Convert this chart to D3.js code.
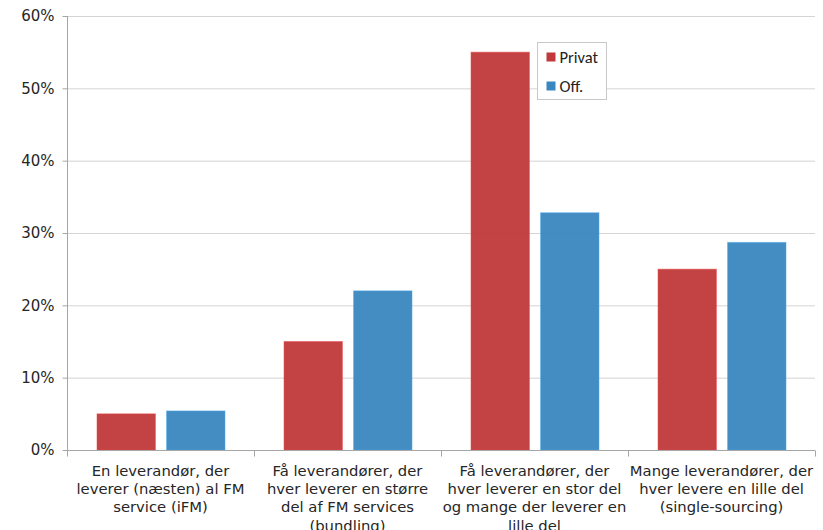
<!DOCTYPE html>
<html>
<head>
<meta charset="utf-8">
<script src="https://cdn.jsdelivr.net/npm/d3@7"></script>
<style>
  html, body { margin: 0; padding: 0; background: #fff; }
  svg { display: block; }
</style>
</head>
<body>
<svg id="chart" width="823" height="530"></svg>
<script>
// Category labels, one array of lines per group
const categories = [
  ["En leverandør, der", "leverer (næsten) al FM", "service (iFM)"],
  ["Få leverandører, der", "hver leverer en større", "del af FM services", "(bundling)"],
  ["Få leverandører, der", "hver leverer en stor del", "og mange der leverer en", "lille del"],
  ["Mange leverandører, der", "hver levere en lille del", "(single-sourcing)"]
];
const seriesNames = ["Privat", "Off."];
const privatValues = [0.05, 0.15, 0.55, 0.25];
const offValues = [0.054, 0.22, 0.328, 0.287];
const yTicks = [0, 0.1, 0.2, 0.3, 0.4, 0.5, 0.6];
const colors = ["#c0393b", "#3a87c0"];

const svg = d3.select("#chart");
const margin = { left: 67, right: 8, top: 16, bottom: 80 };
const W = 823, H = 530;
const plotW = W - margin.left - margin.right;
const plotH = H - margin.top - margin.bottom;
const g = svg.append("g").attr("transform", `translate(${margin.left},${margin.top})`);

const x0 = d3.scaleBand().domain(d3.range(categories.length)).range([0, plotW]).paddingInner(0).paddingOuter(0);
const x1 = d3.scaleBand().domain(seriesNames).range([30, x0.bandwidth() - 29]).paddingInner(0.16);
const y = d3.scaleLinear().domain([0, 0.6]).range([plotH, 0]);

// Horizontal gridlines
g.append("g").selectAll("line").data(yTicks.filter(t => t > 0)).join("line")
  .attr("x1", 0).attr("x2", plotW)
  .attr("y1", d => y(d) + 0.5).attr("y2", d => y(d) + 0.5)
  .attr("stroke", "#d4d4d4").attr("stroke-width", 1);

// Bars
const series = [privatValues, offValues];
series.forEach((vals, si) => {
  g.append("g").selectAll("rect").data(vals).join("rect")
    .attr("x", (d, i) => x0(i) + x1(seriesNames[si]))
    .attr("width", x1.bandwidth())
    .attr("y", d => y(d))
    .attr("height", d => plotH - y(d))
    .attr("fill", colors[si])
    .attr("fill-opacity", 0.95)
    .attr("stroke", d3.color(colors[si]).brighter(0.6))
    .attr("stroke-opacity", 0.5)
    .attr("stroke-width", 1);
});

// Y axis
const yAxis = d3.axisLeft(y).tickValues(yTicks).tickFormat(d3.format(".0%")).tickSize(5).tickPadding(8);
const ya = g.append("g").attr("transform", "translate(0.5,0)").call(yAxis);
ya.select(".domain").attr("stroke", "#a6a6a6").attr("d", `M0,${plotH}V0`);
ya.selectAll(".tick line").attr("stroke", "#a6a6a6");
ya.selectAll(".tick text").attr("font-family", "DejaVu Sans, Verdana, sans-serif").attr("font-size", 15).attr("fill", "#262626");

// X axis line and boundary ticks
const xa = g.append("g").attr("transform", `translate(0,${plotH + 0.5})`);
xa.append("line").attr("x1", 0).attr("x2", plotW).attr("stroke", "#a6a6a6");
xa.selectAll("line.tk").data(d3.range(categories.length + 1)).join("line")
  .attr("class", "tk")
  .attr("x1", i => Math.round(i * x0.bandwidth()) + 0.5)
  .attr("x2", i => Math.round(i * x0.bandwidth()) + 0.5)
  .attr("y1", 0).attr("y2", 6).attr("stroke", "#a6a6a6");

// Category labels
categories.forEach((lines, i) => {
  const t = xa.append("text")
    .attr("x", x0(i) + x0.bandwidth() / 2)
    .attr("y", 25)
    .attr("text-anchor", "middle")
    .attr("font-family", "DejaVu Sans, Verdana, sans-serif")
    .attr("font-size", 14.8)
    .attr("fill", "#262626");
  lines.forEach((ln, k) => {
    t.append("tspan").attr("x", x0(i) + x0.bandwidth() / 2).attr("dy", k === 0 ? 0 : 18.4).text(ln);
  });
});

// Legend
const lg = svg.append("g").attr("transform", "translate(537.5,42.5)");
lg.append("rect").attr("width", 69).attr("height", 57).attr("fill", "#fff").attr("stroke", "#c8c8c8");
seriesNames.forEach((name, i) => {
  const row = lg.append("g").attr("transform", `translate(9,${15 + i * 29})`);
  row.append("rect").attr("x", 0).attr("y", -5).attr("width", 9).attr("height", 9).attr("fill", colors[i]);
  row.append("text").attr("x", 13).attr("y", 5.5)
    .attr("font-family", "Carlito, Liberation Sans, Arial, sans-serif")
    .attr("font-size", 16.5).attr("fill", "#222").text(name);
});
</script>
</body>
</html>
